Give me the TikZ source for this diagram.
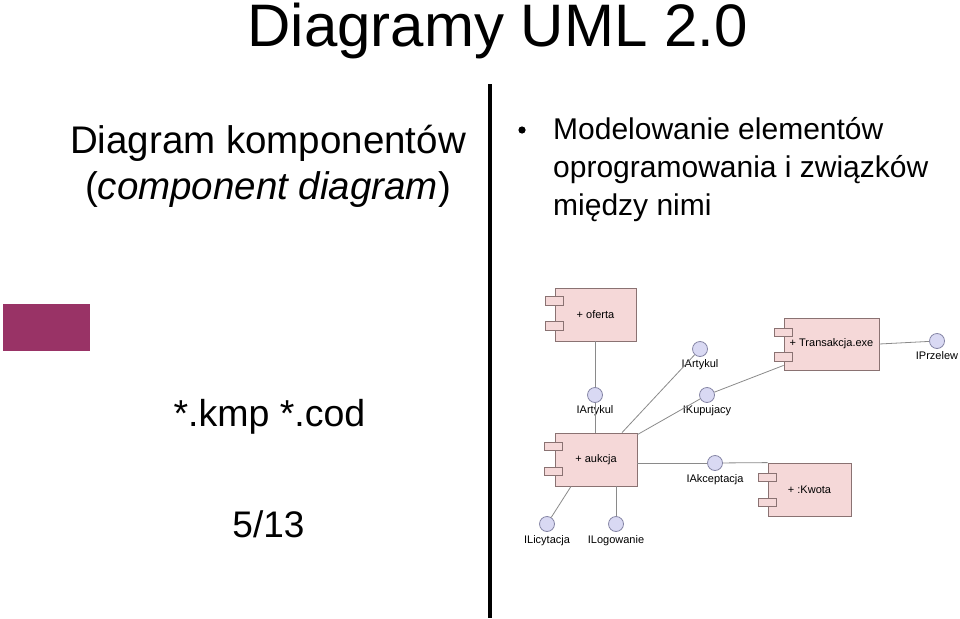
\documentclass[tikz,border=0pt]{standalone}
\usepackage{fontspec}
\setmainfont{Liberation Sans}
\definecolor{boxfill}{HTML}{F5D8D8}
\definecolor{boxline}{HTML}{8A7272}
\definecolor{ifill}{HTML}{D9D9F3}
\definecolor{iline}{HTML}{8585A5}
\definecolor{conn}{HTML}{8A8A8A}
\definecolor{plum}{HTML}{993366}
\begin{document}
\begin{tikzpicture}[x=1pt,y=-1pt,
  comp/.style={draw=boxline,fill=boxfill,line width=0.8pt,inner sep=0pt,font=\fontsize{11}{13}\selectfont},
  tab/.style={draw=boxline,fill=boxfill,line width=0.8pt,minimum width=18pt,minimum height=8.5pt,inner sep=0pt},
  iface/.style={circle,draw=iline,fill=ifill,line width=0.8pt,minimum size=15pt,inner sep=0pt},
  ilabel/.style={font=\fontsize{11}{13}\selectfont,inner sep=0pt,anchor=base},
  link/.style={draw=conn,line width=0.8pt},
  big/.style={inner sep=0pt,anchor=base}]
\useasboundingbox (0,0) rectangle (960,618);
% titles
\node[big,font=\fontsize{60}{70}\selectfont] (title) at (497.5,46) {Diagramy UML 2.0};
\node[big,font=\fontsize{38.5}{46}\selectfont] (l1) at (268,153) {Diagram komponentów};
\node[big,font=\fontsize{38.5}{46}\selectfont] (l2) at (268,199) {(\textit{component diagram})};
\fill (522,130) circle (3.6);
\node[big,anchor=base west,font=\fontsize{30}{38}\selectfont] (b1) at (553,139) {Modelowanie elementów};
\node[big,anchor=base west,font=\fontsize{30}{38}\selectfont] (b2) at (553,177) {oprogramowania i związków};
\node[big,anchor=base west,font=\fontsize{30}{38}\selectfont] (b3) at (553,215) {między nimi};
\draw[line width=4pt] (489.5,84) -- (489.5,618);
\fill[plum] (3,304) rectangle (90,351);
\node[big,font=\fontsize{37.5}{42}\selectfont] (ext) at (269.5,426) {*.kmp *.cod};
\node[big,font=\fontsize{37}{42}\selectfont] (page) at (268.5,537) {5/13};
% components
\node[comp,minimum width=81pt,minimum height=53pt] (oferta) at (595.5,314.5) {+ oferta};
\node[tab] (oferta1) at (554,301) {};
\node[tab] (oferta2) at (554,326) {};
\node[comp,minimum width=95pt,minimum height=52pt] (trans) at (831.5,344) {+ Transakcja.exe};
\node[tab] (trans1) at (783,332.5) {};
\node[tab] (trans2) at (783,357) {};
\node[comp,minimum width=82pt,minimum height=53pt] (aukcja) at (596,459.5) {+ aukcja};
\node[tab] (aukcja1) at (553.5,446.5) {};
\node[tab] (aukcja2) at (553.5,471.5) {};
\node[comp,minimum width=83pt,minimum height=53pt] (kwota) at (809.5,489.5) {+ :Kwota};
\node[tab] (kwota1) at (767,477.5) {};
\node[tab] (kwota2) at (767,502.5) {};
% interfaces
\node[iface] (iart1) at (595,395) {};
\node[iface] (iart2) at (700,349) {};
\node[iface] (iprz) at (937,341) {};
\node[iface] (ikup) at (707,395) {};
\node[iface] (iakc) at (715,463) {};
\node[iface] (ilic) at (547,524) {};
\node[iface] (ilog) at (616,524) {};
\node[ilabel] (iart1l) at (595,413) {IArtykul};
\node[ilabel] (iart2l) at (700,367) {IArtykul};
\node[ilabel] (iprzl) at (937,359) {IPrzelew};
\node[ilabel] (ikupl) at (707,413) {IKupujacy};
\node[ilabel] (iakcl) at (715,482) {IAkceptacja};
\node[ilabel] (ilicl) at (547,543) {ILicytacja};
\node[ilabel] (ilogl) at (616,543) {ILogowanie};
% connectors
\path[link] (oferta.south -| iart1) -- (iart1);
\path[link] (iart1) -- (aukcja.north -| iart1);
\path[link] ([xshift=26pt]aukcja.north) -- (iart2);
\path[link] ([yshift=-2pt]aukcja.north east) -- (ikup);
\path[link] ([yshift=5pt]trans.south west) -- (ikup);
\path[link] (trans.east) -- (iprz);
\path[link] (aukcja.east |- iakc) -- (iakc);
\path[link] (iakc) -- (kwota.north west);
\path[link] ([xshift=-25pt]aukcja.south) -- (ilic);
\path[link] (aukcja.south -| ilog) -- (ilog);
\end{tikzpicture}
\end{document}
